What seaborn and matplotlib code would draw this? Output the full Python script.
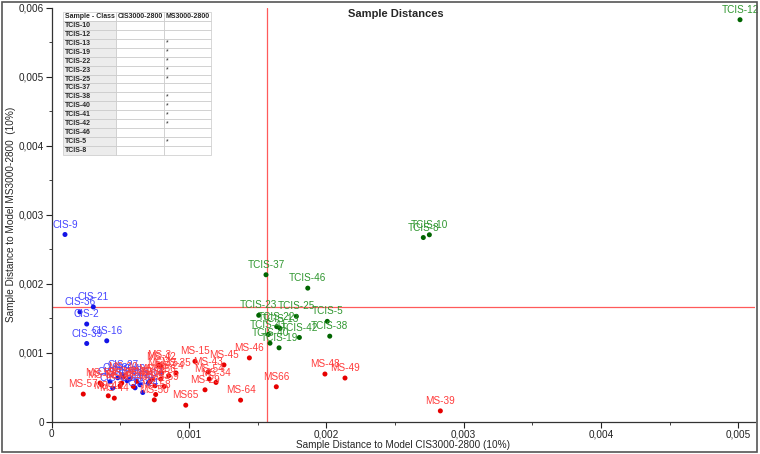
import numpy as np
import pandas as pd
import matplotlib
matplotlib.use("Agg")
import matplotlib.pyplot as plt
from matplotlib.patches import Rectangle
from matplotlib.ticker import MultipleLocator, FuncFormatter
import seaborn as sns

# ---- data ----------------------------------------------------------------
cis_names = ["CIS-9", "CIS-21", "CIS-36", "CIS-2", "CIS-39", "CIS-16", "CIS-27", "CIS-30",
             "CIS-40", "CIS-4", "CIS-11", "CIS-14", "CIS-24", "CIS-33", "CIS-7", "CIS-19"]
cis_x = [0.000098, 0.000304, 0.000207, 0.000256, 0.000256, 0.000402, 0.000518, 0.000482,
         0.000571, 0.000445, 0.000644, 0.000705, 0.000664, 0.000550, 0.000426, 0.000608]
cis_y = [0.002714, 0.001663, 0.001590, 0.001415, 0.001133, 0.001172, 0.000680, 0.000636,
         0.000618, 0.000486, 0.000534, 0.000559, 0.000422, 0.000593, 0.000578, 0.000490]

ms_names = ["MS-57", "MS-55", "MS-52", "MS-41", "MS-44", "MS-47", "MS-36", "MS-30", "MS-40",
            "MS-32", "MS-33", "MS-31", "MS-53", "MS-58", "MS-59", "MS-56", "MS-24", "MS-37",
            "MS-42", "MS-50", "MS-3", "MS-35", "MS65", "MS-15", "MS-29", "MS-43", "MS-54",
            "MS-34", "MS-45", "MS-64", "MS-46", "MS66", "MS-48", "MS-49", "MS-39"]
ms_x = [0.000231, 0.000353, 0.000365, 0.000413, 0.000457, 0.000499, 0.000511, 0.000523, 0.000595,
        0.000620, 0.000717, 0.000737, 0.000753, 0.000758, 0.000819, 0.000795, 0.000853, 0.000802,
        0.000797, 0.000748, 0.000780, 0.000906, 0.000977, 0.001044, 0.001117, 0.001141, 0.001148,
        0.001197, 0.001255, 0.001376, 0.001440, 0.001636, 0.001990, 0.002136, 0.002830]
ms_y = [0.000399, 0.000559, 0.000534, 0.000374, 0.000340, 0.000520, 0.000559, 0.000647, 0.000510,
        0.000583, 0.000583, 0.000618, 0.000520, 0.000393, 0.000510, 0.000618, 0.000666, 0.000705,
        0.000800, 0.000315, 0.000822, 0.000705, 0.000238, 0.000874, 0.000461, 0.000720, 0.000618,
        0.000568, 0.000822, 0.000311, 0.000924, 0.000505, 0.000690, 0.000632, 0.000155]

tcis_names = ["TCIS-12", "TCIS-8", "TCIS-10", "TCIS-37", "TCIS-46", "TCIS-23", "TCIS-25", "TCIS-5",
              "TCIS-38", "TCIS-42", "TCIS-22", "TCIS-13", "TCIS-41", "TCIS-40", "TCIS-19"]
tcis_x = [0.005011, 0.002706, 0.002750, 0.001561, 0.001865, 0.001508, 0.001782, 0.002007,
          0.002025, 0.001804, 0.001639, 0.001663, 0.001578, 0.001590, 0.001656]
tcis_y = [0.005830, 0.002670, 0.002710, 0.002130, 0.001936, 0.001542, 0.001527, 0.001454,
          0.001239, 0.001220, 0.001377, 0.001352, 0.001264, 0.001137, 0.001070]

limit_cis = 0.001566
limit_ms = 0.001669

table_classes = ["TCIS-10", "TCIS-12", "TCIS-13", "TCIS-19", "TCIS-22", "TCIS-23", "TCIS-25", "TCIS-37",
                 "TCIS-38", "TCIS-40", "TCIS-41", "TCIS-42", "TCIS-46", "TCIS-5", "TCIS-8"]
table_cis = ["", "", "", "", "", "", "", "", "", "", "", "", "", "", ""]
table_ms = ["", "", "*", "*", "*", "*", "*", "", "*", "*", "*", "*", "", "*", ""]

df = pd.DataFrame({
    "name": cis_names + ms_names + tcis_names,
    "x": cis_x + ms_x + tcis_x,
    "y": cis_y + ms_y + tcis_y,
    "group": ["CIS"] * len(cis_names) + ["MS"] * len(ms_names) + ["TCIS"] * len(tcis_names),
})

dot_colors = {"CIS": "#1414e6", "MS": "#e60000", "TCIS": "#006400"}
txt_colors = {"CIS": "#4646ff", "MS": "#ff3c3c", "TCIS": "#2f962f"}

sns.set_style("ticks")
plt.rcParams["font.family"] = ["Liberation Sans", "DejaVu Sans"]

fig = plt.figure(figsize=(7.6, 4.54), dpi=100)
ax = fig.add_axes([0.0678, 0.0714, 0.9256, 0.911])

sns.scatterplot(data=df, x="x", y="y", hue="group", palette=dot_colors, s=13,
                edgecolor="none", legend=False, ax=ax, zorder=3)

for _, r in df.iterrows():
    ax.annotate(r["name"], (r["x"], r["y"]), xytext=(0, 3.5), textcoords="offset points",
                ha="center", va="bottom", fontsize=7.2, color=txt_colors[r["group"]], zorder=4)

ax.axvline(limit_cis, color="#ff5a5a", lw=0.9, zorder=2)
ax.axhline(limit_ms, color="#ff5a5a", lw=0.9, zorder=2)

ax.set_xlim(0, 0.00512)
ax.set_ylim(0, 0.006)
ax.xaxis.set_major_locator(MultipleLocator(0.001))
ax.xaxis.set_minor_locator(MultipleLocator(0.0005))
ax.yaxis.set_major_locator(MultipleLocator(0.001))
ax.yaxis.set_minor_locator(MultipleLocator(0.0005))
fmt = FuncFormatter(lambda v, p: "0" if abs(v) < 1e-12 else f"{v:.3f}".replace(".", ","))
ax.xaxis.set_major_formatter(fmt)
ax.yaxis.set_major_formatter(fmt)
ax.tick_params(which="major", length=4, width=0.8, labelsize=7.2, colors="#222222", pad=1.5)
ax.tick_params(which="minor", length=2, width=0.6, colors="#222222")
sns.despine(ax=ax)
for s in ["left", "bottom"]:
    ax.spines[s].set_color("#333333")
    ax.spines[s].set_linewidth(0.9)

ax.set_xlabel("Sample Distance to Model CIS3000-2800 (10%)", fontsize=7.2, labelpad=0.5)
ax.set_ylabel("Sample Distance to Model MS3000-2800  (10%)", fontsize=7.2)
ax.yaxis.set_label_coords(-0.05, 0.5)
ax.text(0.49, 0.985, "Sample Distances", transform=ax.transAxes, ha="center", va="center",
        fontsize=8, fontweight="bold")

# class table in the upper left
cells = [[c, a, b] for c, a, b in zip(table_classes, table_cis, table_ms)]
tbl = ax.table(cellText=cells, colLabels=["Sample - Class", "CIS3000-2800", "MS3000-2800"],
               bbox=[0.0163, 0.6446, 0.2104, 0.3457], cellLoc="left", zorder=5)
tbl.auto_set_font_size(False)
widths = [0.36, 0.32, 0.32]
for (row, col), cell in tbl.get_celld().items():
    cell.set_edgecolor("#c8c8c8")
    cell.set_linewidth(0.5)
    cell.set_width(widths[col] * 0.2104)
    cell.get_text().set_fontsize(5)
    cell.PAD = 0.04
    if row == 0:
        cell.set_facecolor("white")
        cell.get_text().set_fontweight("bold")
    elif col == 0:
        cell.set_facecolor("#ececec")
        cell.get_text().set_fontweight("bold")
    else:
        cell.set_facecolor("white")

fig.patches.append(Rectangle((0.003, 0.004), 0.993, 0.992, transform=fig.transFigure,
                             fill=False, ec="#555555", lw=1.2))

fig.savefig("out.png", dpi=100)
